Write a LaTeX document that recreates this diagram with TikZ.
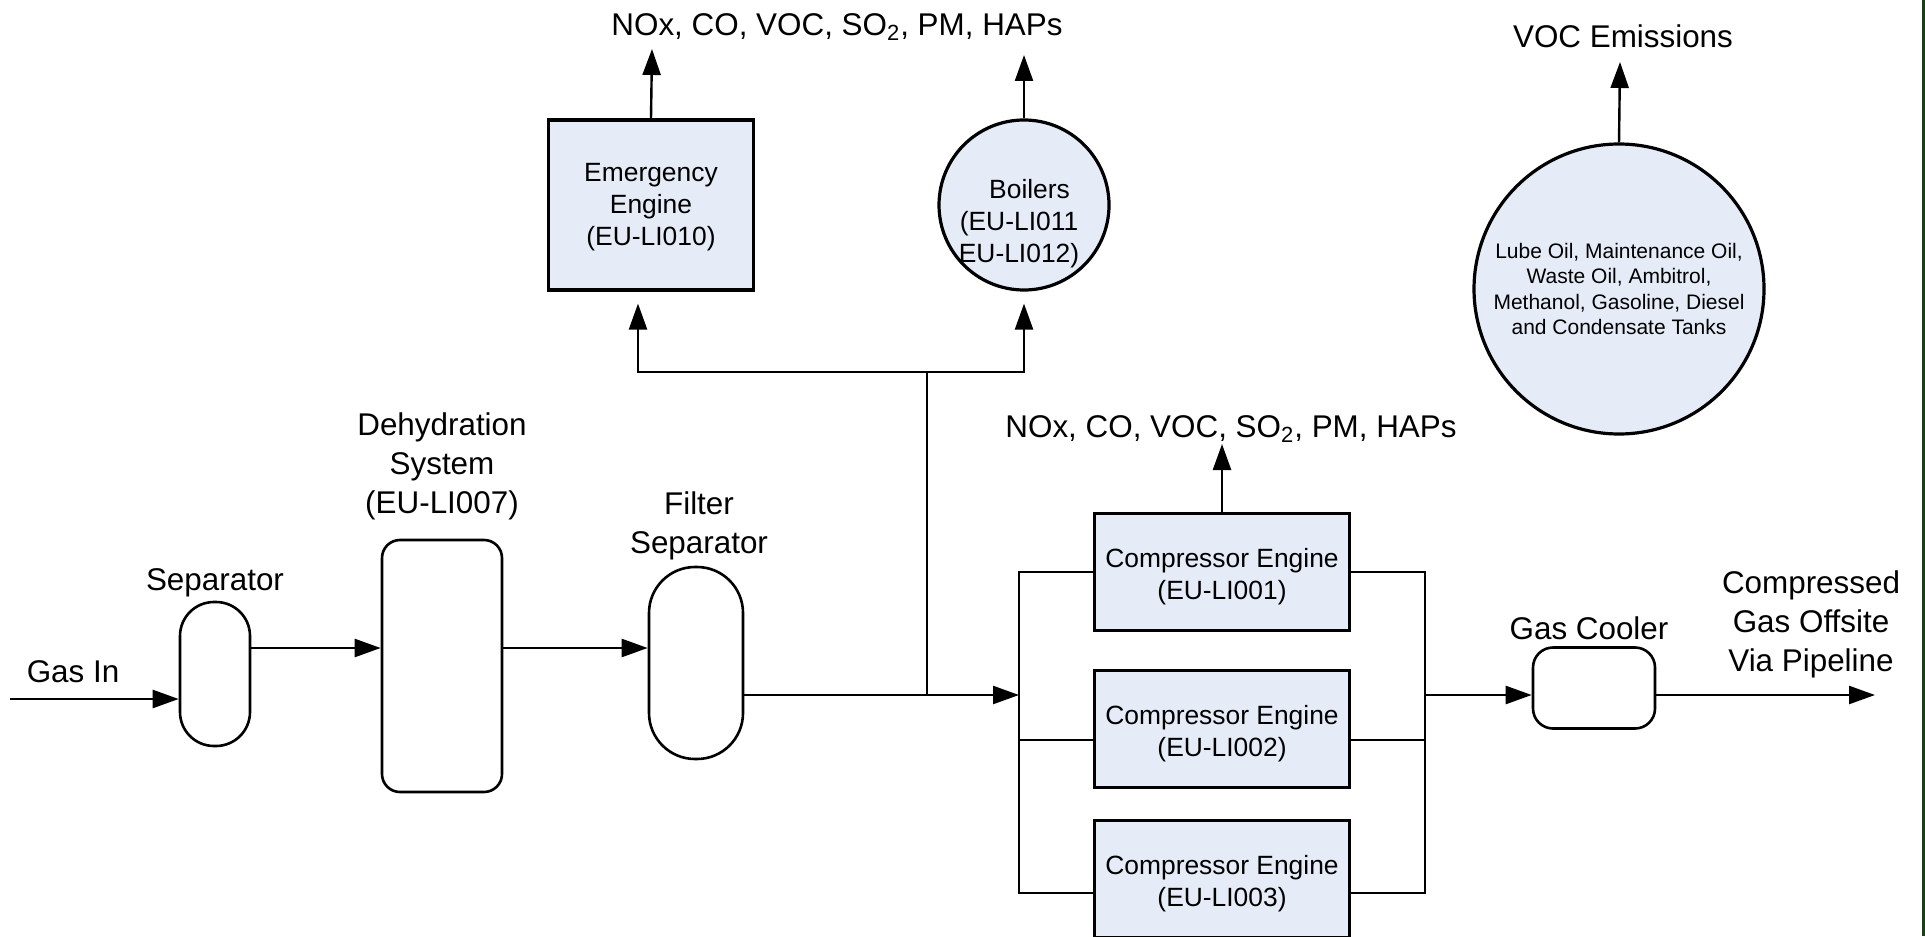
\documentclass[tikz,border=0pt]{standalone}
\usepackage{fontspec}
\setmainfont{Liberation Sans}
\usepackage{tikz}
\usetikzlibrary{positioning,calc,shapes.geometric,arrows.meta}
\definecolor{PlantBlue}{RGB}{229,236,247}
\definecolor{PageGreen}{RGB}{22,66,22}

\tikzset{
    pipe/.style={line width=1.2pt},
    flow/.style={pipe, -{Triangle[length=13pt, width=9pt]}},
    vessel/.style={draw, line width=1.3pt, rounded corners=#1, inner sep=0pt},
    unitbox/.style={draw, fill=PlantBlue, line width=1.6pt, inner sep=0pt},
    unittext/.style={inner sep=0pt, align=center, yshift=-2.5pt, font=\fontsize{13.2}{16}\selectfont},
    plantlabel/.style={inner sep=0pt, align=center, font=\fontsize{15.7}{19.5}\selectfont},
}

\begin{document}
\begin{tikzpicture}[x=0.5pt, y=-0.5pt]
    \useasboundingbox (0,0) rectangle (1925,936);
    \draw[PageGreen, line width=1.5pt] (1923,0) -- (1923,936);

    % process train
    \node[vessel=17pt, minimum width=35pt, minimum height=72pt] (sep) at (215,674) {};
    \node[vessel=9pt, minimum width=60pt, minimum height=126pt] (dehy) at (442,666) {};
    \node[vessel=23pt, minimum width=47pt, minimum height=96pt] (filt) at (696,663) {};
    \node[vessel=10pt, minimum width=61pt, minimum height=40.5pt] (cool) at (1594,688) {};

    \node[plantlabel] (gaslbl) at (73,672) {Gas In};
    \node[plantlabel] (seplbl) at (215,583) {Separator};
    \node[plantlabel] (dehylbl) at (442,466) {Dehydration\\System\\(EU-LI007)};
    \node[plantlabel] (filtlbl) at (699,526) {Filter\\Separator};
    \node[plantlabel] (coollbl) at (1589,628) {Gas Cooler};
    \node[plantlabel] (outlbl) at (1811,624) {Compressed\\Gas Offsite\\Via Pipeline};

    % emission units
    \node[unitbox, minimum width=102.5pt, minimum height=85pt,
        label={[unittext, yshift=1.5pt]center:{Emergency\\Engine\\(EU-LI010)}}] (emerg) at (651,205) {};
    \node[circle, draw, fill=PlantBlue, line width=1.6pt, minimum size=85pt] (boil) at (1024,205) {};
    \node[unittext] (boiltxt) at (1019,219) {\hspace*{0.8em}Boilers\\(EU-LI011\\EU-LI012)};
    \node[circle, draw, fill=PlantBlue, line width=1.6pt, minimum size=145pt, inner sep=0pt, align=center,
        font=\fontsize{10.5}{12.8}\selectfont] (tanks) at (1619,289)
        {Lube Oil, Maintenance Oil,\\Waste Oil, Ambitrol,\\Methanol, Gasoline, Diesel\\and Condensate Tanks};
    \node[unitbox, minimum width=127.5pt, minimum height=58.5pt,
        label={[unittext]center:{Compressor Engine\\(EU-LI001)}}] (comp1) at (1222,572) {};
    \node[unitbox, minimum width=127.5pt, minimum height=58.5pt,
        label={[unittext]center:{Compressor Engine\\(EU-LI002)}}] (comp2) at (1222,729) {};
    \node[unitbox, minimum width=127.5pt, minimum height=58.5pt,
        label={[unittext]center:{Compressor Engine\\(EU-LI003)}}] (comp3) at (1222,879) {};

    \node[plantlabel] (emislbl) at (837,27) {NOx, CO, VOC, SO\textsubscript{2}, PM, HAPs};
    \node[plantlabel] (complbl) at (1231,429) {NOx, CO, VOC, SO\textsubscript{2}, PM, HAPs};
    \node[plantlabel] (voclbl) at (1623,36) {VOC Emissions};

    \coordinate (gasin) at (10,699);
    \coordinate (tee) at (927,695);
    \coordinate (split) at (927,372);
    \coordinate (manL) at (1019,893);
    \coordinate (manR) at (1425,893);
    \coordinate (inL) at (1019,695);
    \coordinate (outR) at (1425,695);
    \coordinate (stubL) at (1019,740);
    \coordinate (stubR) at (1425,740);
    \coordinate (pipeout) at (1875,695);
    \coordinate (emergout) at (652,49);
    \coordinate (boilout) at (1024,55);
    \coordinate (tankout) at (1620,62);
    \coordinate (compout) at (1222,444);

    % connectors
    \draw[flow] (gasin) -- (gasin -| sep.west);
    \draw[flow] (sep.east |- 0,648) -- (dehy.west |- 0,648);
    \draw[flow] (dehy.east |- 0,648) -- (filt.west |- 0,648);
    \draw[pipe] (filt.east |- tee) -- (tee) -- (split);
    \draw[flow] (tee) -- (inL);
    \draw[flow, shorten >=6pt] (split) -| ([xshift=-6.5pt]emerg.south);
    \draw[flow, shorten >=6pt] (split) -| (boil.south);
    \draw[flow] (emerg.north) -- (emergout);
    \draw[flow] (boil.north) -- (boilout);
    \draw[flow] (tanks.north) -- (tankout);
    \draw[flow] (comp1.north) -- (compout);
    \draw[pipe] (comp1.west) -| (manL) -- (manL -| comp3.west);
    \draw[pipe] (stubL) -- (stubL -| comp2.west);
    \draw[pipe] (comp1.east) -| (manR) -- (manR -| comp3.east);
    \draw[pipe] (stubR) -- (stubR -| comp2.east);
    \draw[flow] (outR) -- (outR -| cool.west);
    \draw[flow] (cool.east |- outR) -- (pipeout);
\end{tikzpicture}
\end{document}
